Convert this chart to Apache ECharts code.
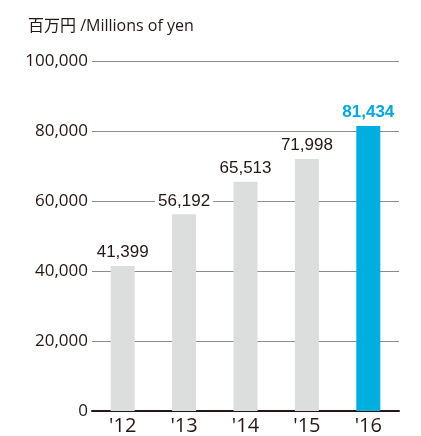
<!DOCTYPE html>
<html>
<head>
<meta charset="utf-8">
<style>
  html, body { margin: 0; padding: 0; background: #fff; }
  .chart { width: 421px; height: 436px; }
</style>
<script src="https://cdn.jsdelivr.net/npm/echarts@6/dist/echarts.min.js"></script>
</head>
<body>
<div class="chart"></div>
<script>
// 百万円 /Millions of yen
var years = ["'12", "'13", "'14", "'15", "'16"];
var values = [41399, 56192, 65513, 71998, 81434];
var yTicks = [0, 20000, 40000, 60000, 80000, 100000];

(function() {
  var myChart = echarts.init(document.querySelector(".chart"));

  // 最后一年用蓝色突出
  var barData = values.map(function(v, i) {
    var last = i === values.length - 1;
    return {
      value: v,
      itemStyle: { color: last ? "#00afdf" : "#dcdddd" },
      label: last ? { color: "#00a9df", fontWeight: "bold" } : {}
    };
  });

  var option = {
    animation: false,
    title: {
      text: "百万円 /Millions of yen",
      left: 23,
      top: 13,
      textStyle: {
        fontFamily: "Open Sans, Noto Sans CJK JP",
        fontSize: 16,
        fontWeight: "normal",
        color: "#231815"
      }
    },
    grid: {
      left: 92,
      right: 22,
      top: 61,
      bottom: 25,
      containLabel: false
    },
    xAxis: {
      type: "category",
      data: years,
      axisTick: { show: false },
      axisLine: { lineStyle: { color: "#231815", width: 2 } },
      axisLabel: {
        color: "#231815",
        fontFamily: "Open Sans",
        fontSize: 20,
        margin: 5
      }
    },
    yAxis: {
      type: "value",
      min: yTicks[0],
      max: yTicks[yTicks.length - 1],
      interval: yTicks[1] - yTicks[0],
      axisLine: { show: false },
      axisTick: { show: false },
      axisLabel: {
        color: "#231815",
        fontFamily: "Open Sans",
        fontSize: 17,
        margin: 4,
        formatter: function(v) {
          return v.toLocaleString("en-US");
        }
      },
      splitLine: {
        lineStyle: { color: "#8c8c8c", width: 1 }
      }
    },
    series: [
      {
        type: "bar",
        barWidth: 24,
        data: barData,
        label: {
          show: true,
          position: "top",
          distance: 5,
          color: "#231815",
          fontFamily: "Liberation Sans",
          fontSize: 17,
          backgroundColor: "#fff",
          padding: [0, 3],
          formatter: function(p) {
            return p.value.toLocaleString("en-US");
          }
        }
      }
    ]
  };

  myChart.setOption(option);
  window.addEventListener("resize", function() {
    myChart.resize();
  });
})();
</script>
</body>
</html>
